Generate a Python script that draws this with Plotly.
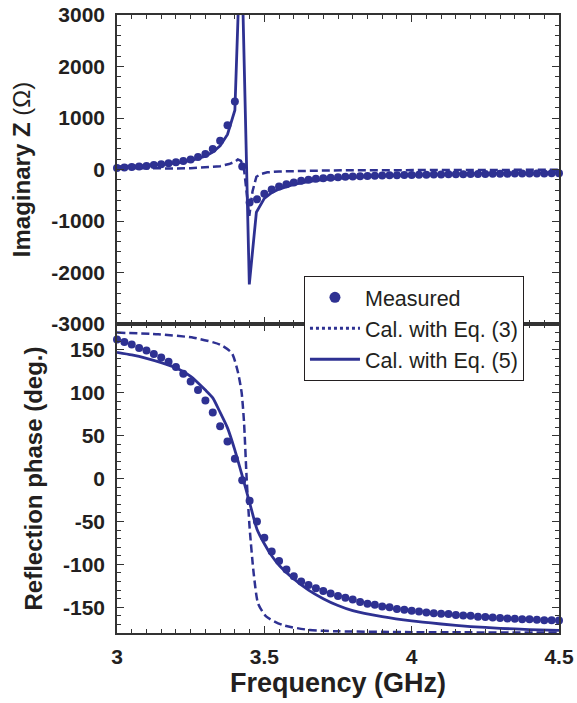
import plotly.graph_objects as go
from plotly.subplots import make_subplots

BLUE = "rgb(46,49,146)"
INK = "#231f20"
FONT = "Liberation Sans"

# ---------------- data ----------------
freq_meas = [round(3.0 + 0.025 * i, 3) for i in range(61)]

imagz_meas = [30, 40, 50, 60, 70, 85, 100, 120, 140, 165,
              195, 245, 300, 400, 560, 860, 1320, 60, -640, -580,
              -470, -390, -330, -285, -250, -220, -198, -182, -170, -160,
              -150, -143, -137, -131, -126, -122, -118, -114, -111, -108,
              -105, -102, -100, -98, -96, -94, -92, -90, -89, -87,
              -86, -84, -83, -82, -80, -79, -78, -77, -76, -75, -73]

phase_meas = [162, 159, 156, 152, 149, 145, 141, 136, 130, 122,
              113, 103, 91, 77, 61, 43, 23, -2, -26, -50,
              -69, -85, -96, -106, -114, -120, -124, -128, -131, -134,
              -137, -139, -141, -144, -146, -147, -149, -150, -152, -153,
              -154, -155, -156, -157, -157.5, -158, -159, -159.5, -160, -161,
              -161.5, -162, -162.5, -163, -163.5, -164, -164, -164.5, -165, -165, -165.5]

freq_z5 = [3.0, 3.05, 3.1, 3.15, 3.2, 3.25, 3.3, 3.325, 3.35, 3.375, 3.4, 3.421,
           3.449, 3.473, 3.5, 3.525, 3.55, 3.6, 3.65, 3.7, 3.8, 3.9, 4.0, 4.1,
           4.2, 4.3, 4.4, 4.5]
imagz_eq5 = [55, 65, 80, 100, 125, 170, 260, 340, 460, 680, 1150, 4700,
             -2230, -830, -560, -450, -380, -290, -235, -195, -150, -122, -104, -92,
             -82, -74, -68, -63]

freq_z3 = [3.0, 3.1, 3.2, 3.25, 3.3, 3.35, 3.38, 3.4, 3.41, 3.42, 3.43, 3.44,
           3.449, 3.46, 3.473, 3.49, 3.51, 3.55, 3.6, 3.7, 3.8, 4.0, 4.25, 4.5]
imagz_eq3 = [30, 22, 20, 25, 38, 65, 105, 150, 195, 170, 60, -450,
             -900, -420, -140, -85, -55, -38, -28, -20, -15, -10, -7, -5]

freq_p5 = [3.0, 3.05, 3.1, 3.15, 3.2, 3.25, 3.3, 3.325, 3.35, 3.375, 3.4, 3.425,
           3.45, 3.475, 3.5, 3.525, 3.55, 3.6, 3.65, 3.7, 3.75, 3.8, 3.9, 4.0,
           4.1, 4.2, 4.3, 4.4, 4.5]
phase_eq5 = [147, 144, 140, 135, 129, 119, 103, 94, 77, 59, 33, 3,
             -28, -59, -76, -90, -101, -117, -130, -140, -148, -154, -161, -166,
             -169.5, -172.5, -174.5, -176, -177]

freq_p3 = [3.0, 3.14, 3.26, 3.35, 3.39, 3.411, 3.423, 3.431, 3.44, 3.45, 3.464,
           3.479, 3.507, 3.564, 3.654, 3.75, 4.0, 4.5]
phase_eq3 = [170, 168, 164, 156, 146, 123, 100, 66, 0, -57, -111,
             -146, -161, -171, -176.5, -178, -179, -179.5]

legend_names = ["Measured", "Cal. with Eq. (3)", "Cal. with Eq. (5)"]

z_ticks = [-3000, -2000, -1000, 0, 1000, 2000, 3000]
z_ticktext = ["-3000", "-2000", "-1000", "0", "1000", "2000", "3000"]
p_ticks = [-150, -100, -50, 0, 50, 100, 150]
p_ticktext = ["-150", "-100", "-50", "0", "50", "100", "150"]
f_ticks = [3, 3.5, 4, 4.5]
f_ticktext = ["3", "3.5", "4", "4.5"]

# ---------------- figure ----------------
fig = make_subplots(rows=2, cols=1, shared_xaxes=True, vertical_spacing=0)

DASH = "8px,4px"

# legend entries
fig.add_trace(go.Scatter(x=[None], y=[None], mode="markers", name=legend_names[0],
                         marker=dict(color=BLUE, size=11)), row=1, col=1)
fig.add_trace(go.Scatter(x=[None], y=[None], mode="lines", name=legend_names[1],
                         line=dict(color=BLUE, width=3, dash="dot")), row=1, col=1)
fig.add_trace(go.Scatter(x=[None], y=[None], mode="lines", name=legend_names[2],
                         line=dict(color=BLUE, width=3)), row=1, col=1)

# top panel
fig.add_trace(go.Scatter(x=freq_z3, y=imagz_eq3, mode="lines", showlegend=False,
                         line=dict(color=BLUE, width=2.5, dash=DASH)), row=1, col=1)
fig.add_trace(go.Scatter(x=freq_z5, y=imagz_eq5, mode="lines", showlegend=False,
                         line=dict(color=BLUE, width=2.8)), row=1, col=1)
fig.add_trace(go.Scatter(x=freq_meas, y=imagz_meas, mode="markers", showlegend=False,
                         cliponaxis=False,
                         marker=dict(color=BLUE, size=8)), row=1, col=1)

# bottom panel
fig.add_trace(go.Scatter(x=freq_p3, y=phase_eq3, mode="lines", showlegend=False,
                         line=dict(color=BLUE, width=2.5, dash=DASH, shape="spline",
                                   smoothing=0.6)), row=2, col=1)
fig.add_trace(go.Scatter(x=freq_p5, y=phase_eq5, mode="lines", showlegend=False,
                         line=dict(color=BLUE, width=2.8, shape="spline",
                                   smoothing=0.6)), row=2, col=1)
fig.add_trace(go.Scatter(x=freq_meas, y=phase_meas, mode="markers", showlegend=False,
                         cliponaxis=False,
                         marker=dict(color=BLUE, size=8)), row=2, col=1)

axis_common = dict(showline=True, linecolor="#333333", linewidth=1.5, mirror="ticks",
                   ticks="inside", ticklen=7, tickwidth=1.3, tickcolor="#333333",
                   showgrid=False, zeroline=False, automargin=False,
                   tickfont=dict(family=FONT, size=21, color=INK, weight="bold"))

fig.update_xaxes(range=[3, 4.5], tickvals=f_ticks, ticktext=f_ticktext,
                 minor=dict(ticks="inside", ticklen=4, tickwidth=1, tickcolor="#333333",
                            dtick=0.05, showgrid=False),
                 **axis_common)
fig.update_xaxes(title=dict(text="<b>Frequency (GHz)</b>", standoff=6,
                            font=dict(family=FONT, size=27, color=INK)),
                 ticklabelstandoff=4, row=2, col=1)

fig.update_yaxes(range=[-3000, 3000], tickvals=z_ticks, ticktext=z_ticktext,
                 minor=dict(ticks="inside", ticklen=4, tickwidth=1, tickcolor="#333333",
                            dtick=200, showgrid=False),
                 title=dict(text="<b>Imaginary Z</b> (Ω)", standoff=14,
                            font=dict(family=FONT, size=24, color=INK)),
                 ticklabelstandoff=6,
                 row=1, col=1, **axis_common)
fig.update_yaxes(range=[-180, 180], tickvals=p_ticks, ticktext=p_ticktext,
                 minor=dict(ticks="inside", ticklen=4, tickwidth=1, tickcolor="#333333",
                            dtick=10, showgrid=False),
                 title=dict(text="<b>Reflection phase (deg.)</b>", standoff=14,
                            font=dict(family=FONT, size=24, color=INK)),
                 ticklabelstandoff=6,
                 row=2, col=1, **axis_common)

fig.update_layout(
    width=577, height=703,
    margin=dict(l=117, r=18, t=15, b=70),
    paper_bgcolor="white", plot_bgcolor="white",
    font=dict(family=FONT, color=INK),
    legend=dict(x=0.423, y=0.578, xanchor="left", yanchor="top",
                bgcolor="white", bordercolor=INK, borderwidth=1,
                font=dict(family=FONT, size=21.5, color=INK),
                itemwidth=50, tracegroupgap=0),
)

fig.write_html("out.html", config={"displayModeBar": False},
               post_script="document.body.style.margin='0';document.body.style.overflow='hidden';")
